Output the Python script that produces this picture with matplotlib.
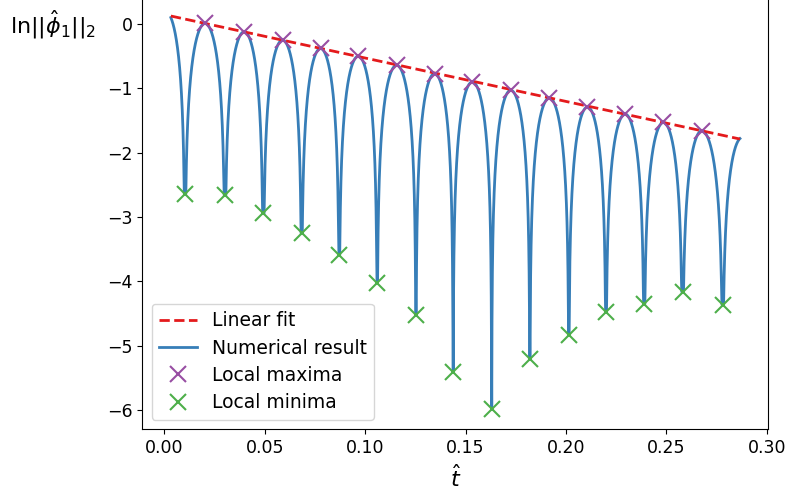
import numpy as np
import matplotlib
matplotlib.use('Agg')
from matplotlib import pyplot as plt

# local extrema of ln||phi_1||_2
t_max = [0.0203, 0.0398, 0.0589, 0.0778, 0.0966, 0.1157, 0.1346,
         0.1534, 0.1725, 0.1917, 0.2107, 0.2294, 0.2485, 0.2676]
y_max = [0.01, -0.12, -0.25, -0.38, -0.50, -0.64, -0.77,
         -0.90, -1.03, -1.15, -1.29, -1.40, -1.53, -1.66]
t_min = [0.0103, 0.0302, 0.0493, 0.0684, 0.0871, 0.1060, 0.1253, 0.1438,
         0.1630, 0.1820, 0.2014, 0.2199, 0.2389, 0.2580, 0.2780]
y_min = [-2.64, -2.66, -2.94, -3.25, -3.59, -4.02, -4.53, -5.41,
         -5.99, -5.21, -4.83, -4.48, -4.35, -4.16, -4.36]
# first and last sample of the run
t_ends = [0.0033, 0.2866]
y_ends = [0.10, -1.78]
# linear fit through the maxima
fit_slope = -6.75
fit_icept = 0.147


def arch(tp, yp, tm, ym, n=400):
    # log of a cosine lobe from a peak (tp, yp) down to a zero at tm
    u = np.linspace(0, 1, n)
    tt = tp + (tm - tp)*u
    yy = yp + np.log(np.abs(np.cos(0.5*np.pi*u)) + 1e-300)
    return tt, np.maximum(yy, ym)


def arch_to(tm, ym, te, ye, h):
    # partial lobe from a zero at tm out to an end sample te
    tp = tm + np.sign(te - tm)*h
    u_end = abs(te - tp)/h
    yp = ye - np.log(np.cos(0.5*np.pi*u_end))
    u = np.linspace(1, u_end, 300)
    tt = tp + (tm - tp)*u
    yy = yp + np.log(np.abs(np.cos(0.5*np.pi*u)) + 1e-300)
    return tt, np.maximum(yy, ym)


half = np.mean(np.diff(t_min))/2
ts, ys = [], []
a, b = arch_to(t_min[0], y_min[0], t_ends[0], y_ends[0], half)
ts.append(a[::-1]); ys.append(b[::-1])
for k in range(len(t_max)):
    a, b = arch(t_max[k], y_max[k], t_min[k], y_min[k])
    ts.append(a[::-1]); ys.append(b[::-1])
    a, b = arch(t_max[k], y_max[k], t_min[k+1], y_min[k+1])
    ts.append(a); ys.append(b)
a, b = arch_to(t_min[-1], y_min[-1], t_ends[1], y_ends[1], half)
ts.append(a); ys.append(b)
t_num = np.concatenate(ts)
y_num = np.concatenate(ys)

t_fit = np.array(t_ends)
y_fit = fit_icept + fit_slope*t_fit

fig = plt.figure(figsize=(7.89, 4.95), dpi=100)
ax = fig.add_axes([0.1804, 0.1327, 0.7936, 0.9149])

ax.plot(t_fit, y_fit, '--', color='#e41a1c', lw=2, label='Linear fit', zorder=3)
ax.plot(t_num, y_num, '-', color='#377eb8', lw=2, label='Numerical result', zorder=2)
ax.plot(t_max, y_max, 'x', color='#984ea3', ms=12, mew=1.5, label='Local maxima', zorder=4)
ax.plot(t_min, y_min, 'x', color='#4daf4a', ms=12, mew=1.5, label='Local minima', zorder=4)

ax.set_xlim(-0.0109, 0.3008)
ax.set_ylim(-6.30, 0.74)
ax.set_xticks(np.arange(0, 0.301, 0.05))
ax.set_yticks([0, -1, -2, -3, -4, -5, -6])
ax.tick_params(labelsize=12.5)

ax.set_xlabel(r'$\hat{t}$', fontsize=16, labelpad=5)
ax.set_ylabel(r'$\ln||\hat{\phi}_1||_2$', fontsize=16, rotation=0, ha='center', va='center')
ax.yaxis.set_label_coords(-0.1426, 0.893)

ax.legend(loc='lower left', fontsize=13.5, labelspacing=0.45)

plt.savefig('out.png', dpi=100)
